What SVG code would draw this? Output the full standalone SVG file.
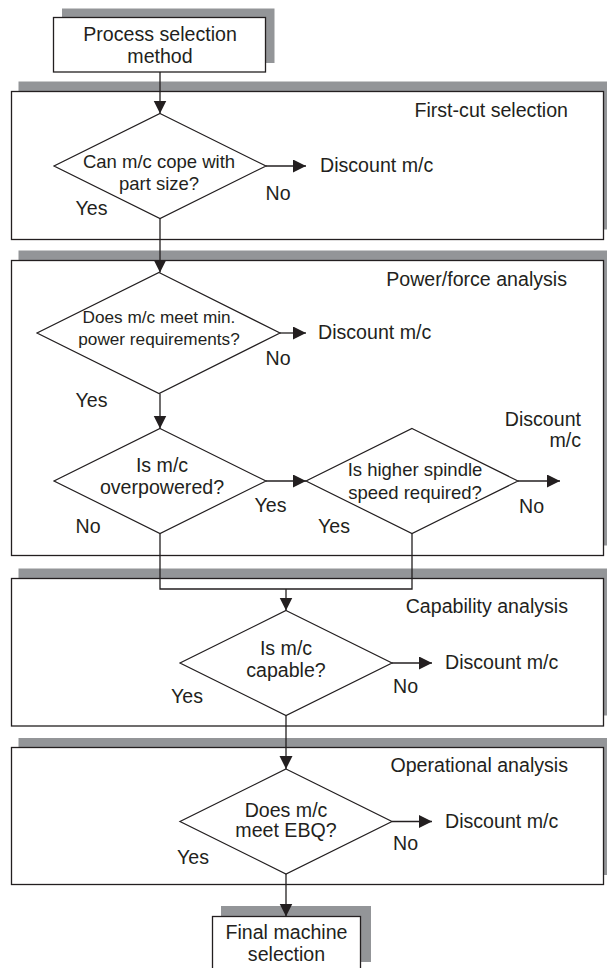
<svg xmlns="http://www.w3.org/2000/svg" width="607" height="968" viewBox="0 0 607 968">
<style>
.shadow{fill:#939598;stroke:none}
.box{fill:#fff;stroke:#231f20;stroke-width:1.3}
.dia{fill:#fff;stroke:#231f20;stroke-width:1.2}
.ln{fill:none;stroke:#231f20;stroke-width:1.3}
text{font-family:"Liberation Sans",Arial,sans-serif;font-size:19.6px;fill:#231f20}
.c{text-anchor:middle}
.e{text-anchor:end}
.s17{font-size:17.2px}
.s18{font-size:18.5px}
</style>
<defs>
<marker id="ah" markerUnits="userSpaceOnUse" markerWidth="14" markerHeight="14" refX="13" refY="6.5" orient="auto">
<path d="M0,0 L13,6.5 L0,13 z" fill="#231f20"/>
</marker>
</defs>

<g id="frame-firstcut">
<rect class="shadow" x="18.5" y="81.5" width="592" height="148"/>
<rect class="box" x="11.5" y="91.5" width="592" height="148"/>
<text class="e" x="568" y="117">First-cut selection</text>
</g>
<g id="frame-power">
<rect class="shadow" x="18.5" y="250.5" width="592" height="295"/>
<rect class="box" x="11.5" y="260.5" width="592" height="295"/>
<text class="e" x="567" y="286">Power/force analysis</text>
</g>
<g id="frame-capability">
<rect class="shadow" x="18.5" y="568.5" width="592" height="147"/>
<rect class="box" x="11.5" y="578.5" width="592" height="147.5"/>
<text class="e" x="568" y="613">Capability analysis</text>
</g>
<g id="frame-operational">
<rect class="shadow" x="18.5" y="738" width="592" height="137"/>
<rect class="box" x="11.5" y="747.5" width="592" height="137"/>
<text class="e" x="568" y="772">Operational analysis</text>
</g>

<g id="start">
<rect class="shadow" x="62" y="8.5" width="212.5" height="54.5"/>
<rect class="box" x="53.5" y="17.5" width="212" height="54.5"/>
<text class="c" x="160" y="41">Process selection</text>
<text class="c" x="160" y="63">method</text>
</g>

<g id="d1">
<polygon class="dia" points="160,113.5 266,166 160,218.5 54,166"/>
<text class="c s18" x="159" y="168">Can m/c cope with</text>
<text class="c s18" x="159" y="190">part size?</text>
</g>
<g id="d2">
<polygon class="dia" points="159,272.5 280,333 159,393.5 37,333"/>
<text class="c s17" x="159" y="323">Does m/c meet min.</text>
<text class="c s17" x="159" y="345">power requirements?</text>
</g>
<g id="d3">
<polygon class="dia" points="160,428.5 266,481 160,533.5 54,481"/>
<text class="c" x="162" y="472">Is m/c</text>
<text class="c" x="162" y="494">overpowered?</text>
</g>
<g id="d4">
<polygon class="dia" points="412,428.5 518,481 412,533.5 306,481"/>
<text class="c s18" x="415" y="476">Is higher spindle</text>
<text class="c s18" x="415" y="499">speed required?</text>
</g>
<g id="d5">
<polygon class="dia" points="286,610.5 392,663 286,715.5 180,663"/>
<text class="c" x="286" y="655">Is m/c</text>
<text class="c" x="286" y="677">capable?</text>
</g>
<g id="d6">
<polygon class="dia" points="286,769 392,821.5 286,874 180,821.5"/>
<text class="c" x="286" y="817">Does m/c</text>
<text class="c" x="286" y="837">meet EBQ?</text>
</g>

<g id="end">
<rect class="shadow" x="221" y="906" width="150" height="56"/>
<rect class="box" x="212.5" y="916.5" width="148" height="60"/>
<text class="c" x="286.5" y="939">Final machine</text>
<text class="c" x="286.5" y="961">selection</text>
</g>

<g id="connectors">
<line class="ln" x1="160" y1="72" x2="160" y2="113.5" marker-end="url(#ah)"/>
<line class="ln" x1="266" y1="166" x2="306" y2="166" marker-end="url(#ah)"/>
<line class="ln" x1="160" y1="218.5" x2="160" y2="272.5" marker-end="url(#ah)"/>
<line class="ln" x1="280" y1="333" x2="306" y2="333" marker-end="url(#ah)"/>
<line class="ln" x1="160" y1="393.5" x2="160" y2="428.5" marker-end="url(#ah)"/>
<line class="ln" x1="266" y1="481" x2="306" y2="481" marker-end="url(#ah)"/>
<line class="ln" x1="518" y1="481" x2="560" y2="481" marker-end="url(#ah)"/>
<polyline class="ln" points="160,533.5 160,589 412,589 412,533.5"/>
<line class="ln" x1="286" y1="589" x2="286" y2="610.5" marker-end="url(#ah)"/>
<line class="ln" x1="392" y1="663" x2="432" y2="663" marker-end="url(#ah)"/>
<line class="ln" x1="286" y1="715.5" x2="286" y2="769" marker-end="url(#ah)"/>
<line class="ln" x1="392" y1="821.5" x2="432" y2="821.5" marker-end="url(#ah)"/>
<line class="ln" x1="286" y1="874" x2="286" y2="916.5" marker-end="url(#ah)"/>
</g>

<g id="labels">
<text x="320" y="172">Discount m/c</text>
<text x="265.5" y="199.5">No</text>
<text x="75.5" y="215">Yes</text>
<text x="318" y="339">Discount m/c</text>
<text x="265.5" y="365">No</text>
<text x="75.5" y="407">Yes</text>
<text x="254.5" y="512">Yes</text>
<text x="75.5" y="533">No</text>
<text x="519" y="513">No</text>
<text x="318" y="533">Yes</text>
<text class="e" x="581" y="426">Discount</text>
<text class="e" x="581" y="447">m/c</text>
<text x="445" y="669">Discount m/c</text>
<text x="393" y="693">No</text>
<text x="171" y="703">Yes</text>
<text x="445" y="828">Discount m/c</text>
<text x="393" y="850">No</text>
<text x="177" y="864">Yes</text>
</g>
</svg>
